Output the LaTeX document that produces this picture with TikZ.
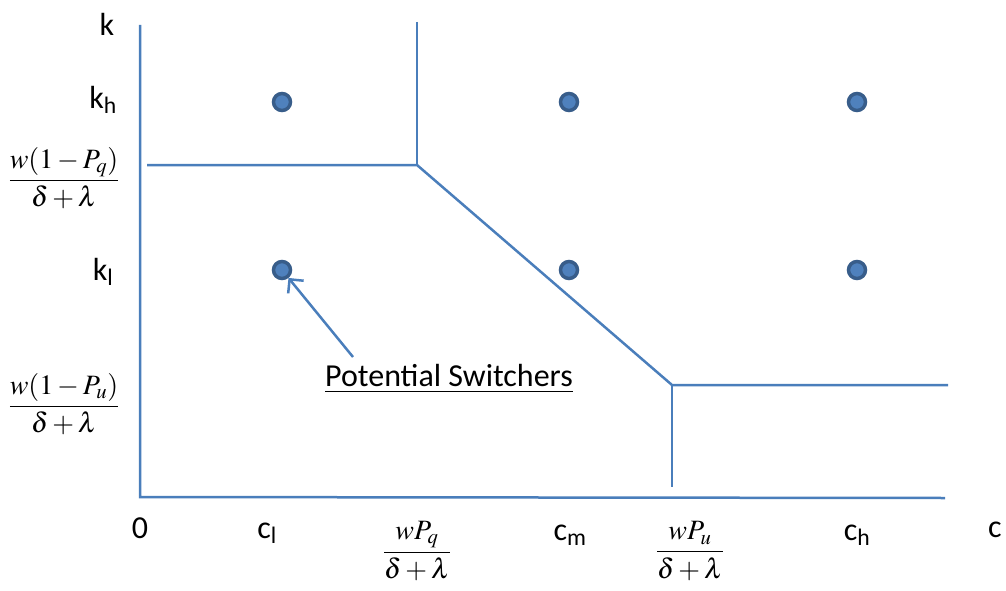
\documentclass[tikz,border=0pt]{standalone}
\usepackage{amsmath}
\usepackage{mathptmx}
\usepackage{fontspec}
\setmainfont{Carlito}
\usetikzlibrary{arrows.meta}
\definecolor{ln}{HTML}{4A7EBB}
\definecolor{dotf}{HTML}{4F81BD}
\definecolor{dotb}{HTML}{385D8A}
\tikzset{
  axis/.style={ln, line width=2.5pt},
  bound/.style={ln, line width=2.5pt},
  dot/.style={circle, fill=dotf, draw=dotb, line width=3.5pt, minimum size=17pt, inner sep=0pt},
  lab/.style={font=\fontsize{32}{34}\selectfont, inner sep=0pt},
  frac/.style={font=\fontsize{28}{32}\selectfont, inner sep=0pt},
}
\begin{document}
\begin{tikzpicture}[x=1pt,y=-1pt]
\useasboundingbox (0,0) rectangle (1006,591);
% axes
\coordinate (ytop) at (140,25);
\coordinate (org) at (140,497);
\coordinate (xend) at (945,498);
\draw[axis] (ytop) -- (org) -- (xend);
% boundary
\coordinate (b1) at (147,165);
\coordinate (b2) at (417,165);
\coordinate (b2t) at (417,22);
\coordinate (b3) at (672,385);
\coordinate (b4) at (948,385);
\coordinate (b3b) at (672,487);
\draw[bound] (b1) -- (b2) -- (b3) -- (b4);
\draw[bound] (b2t) -- (b2);
\draw[bound] (b3) -- (b3b);
% dots
\node[dot] (d1) at (282,102) {};
\node[dot] (d2) at (569,102) {};
\node[dot] (d3) at (857,102) {};
\node[dot] (d4) at (282,270) {};
\node[dot] (d5) at (569,270) {};
\node[dot] (d6) at (857,270) {};
% potential switchers
\node[font=\fontsize{32}{34}\selectfont, inner sep=0pt] (ps) at (449,379) {\underline{Potential Switchers}};
\coordinate (as) at (353,357);
\draw[ln, line width=2.5pt, -{Straight Barb[length=10pt,width=20pt]}] (as) -- (d4);
% y labels
\node[lab] (k) at (107,24) {k};
\node[lab] (kh) at (103,100) {k\textsubscript{h}};
\node[lab] (kl) at (103,272) {k\textsubscript{l}};
\node[frac] (fq) at (64,178) {$\dfrac{w(1-P_q)}{\delta+\lambda}$};
\node[frac] (fu) at (64,404) {$\dfrac{w(1-P_u)}{\delta+\lambda}$};
% x labels
\node[lab] (x0) at (140,528) {0};
\node[lab] (cl) at (267,533) {c\textsubscript{l}};
\node[lab] (cm) at (570,535) {c\textsubscript{m}};
\node[lab] (ch) at (857,535) {c\textsubscript{h}};
\node[lab] (c) at (995,530) {c};
\node[frac] (fwq) at (417,551) {$\dfrac{wP_q}{\delta+\lambda}$};
\node[frac] (fwu) at (690,551) {$\dfrac{wP_u}{\delta+\lambda}$};
\end{tikzpicture}
\end{document}
